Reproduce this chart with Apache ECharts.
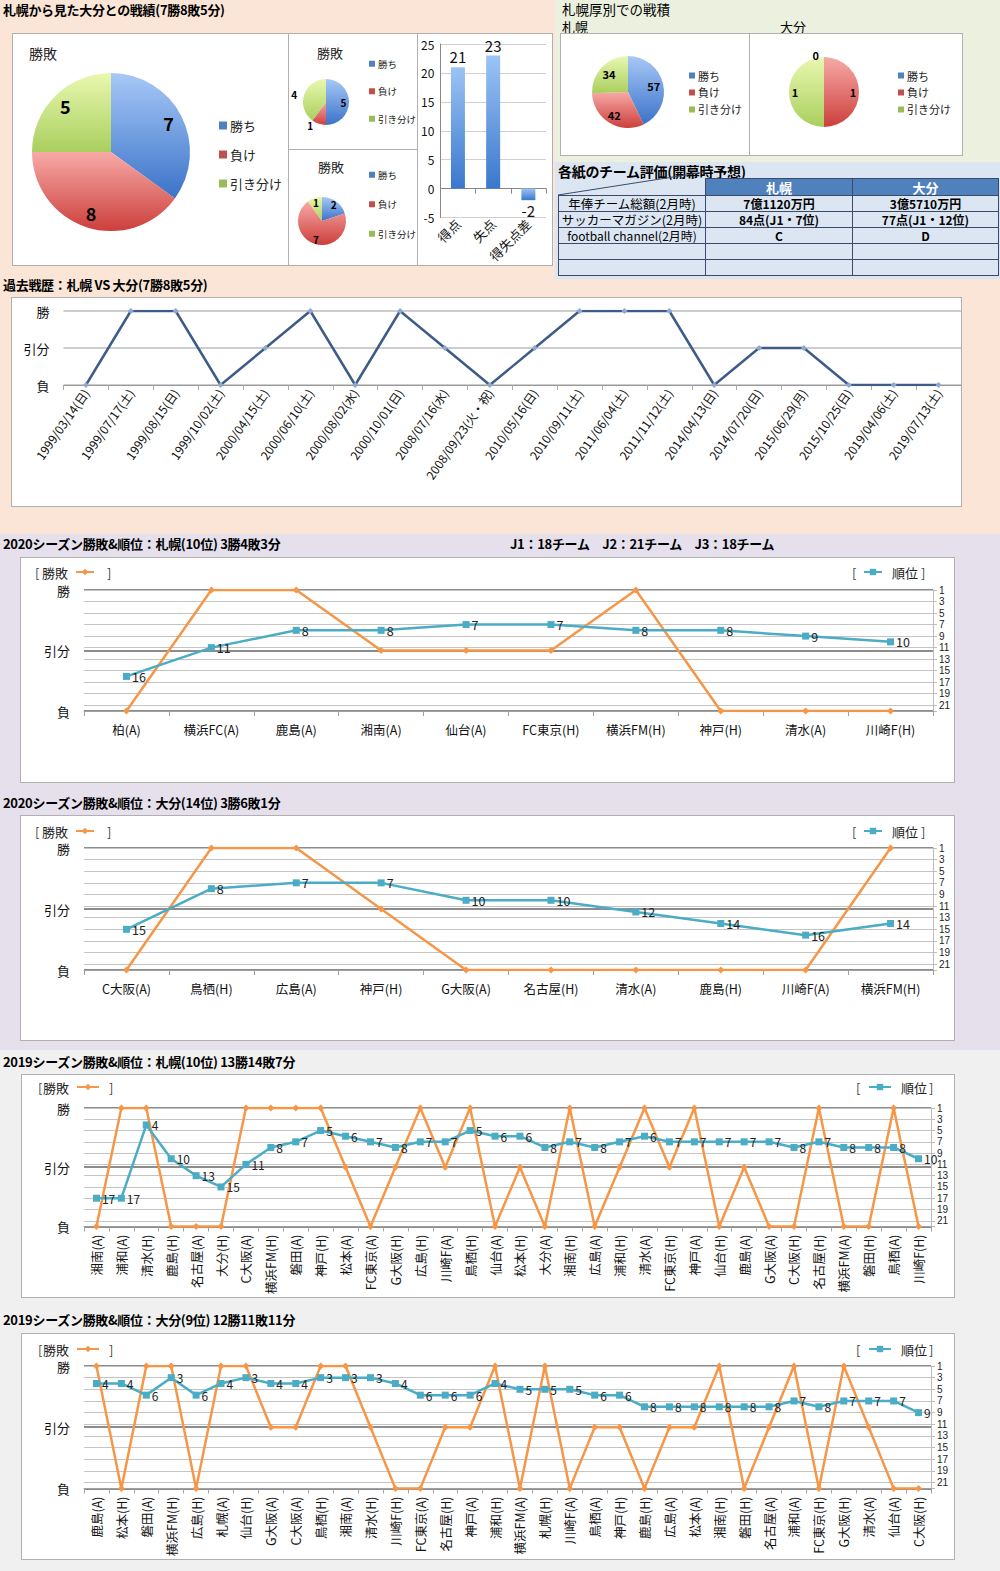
<!DOCTYPE html>
<html><head><meta charset="utf-8">
<script src="https://cdn.jsdelivr.net/npm/echarts@6/dist/echarts.min.js"></script>
<style>
body{margin:0;width:1000px;height:1571px;position:relative;overflow:hidden;font-family:'Noto Sans CJK JP','Noto Sans',sans-serif;background:#fff;}
.sec{position:absolute;}
.box{position:absolute;background:#fff;border:1px solid #b0b0b0;box-sizing:border-box;}
.ttl{position:absolute;font-weight:bold;font-size:13px;color:#000;white-space:nowrap;line-height:16px;letter-spacing:-0.3px;}
.ttln{position:absolute;font-size:13px;color:#000;white-space:nowrap;line-height:13px;}
#tbl{position:absolute;left:558px;top:178px;border-collapse:collapse;table-layout:fixed;}
#tbl td{border:1px solid #3a4a68;padding:0;font-size:12.5px;line-height:13px;height:15px;text-align:center;background:#dce6f2;white-space:nowrap;overflow:visible;}
#tbl td.h{background:#4f81bd;color:#fff;font-weight:bold;font-size:13px;}
#tbl td.b{font-weight:bold;font-size:12px;}
</style></head>
<body>
<div class="sec" style="left:0;top:0;width:1000px;height:534px;background:#fbe5d6"></div>
<div class="sec" style="left:555px;top:0;width:445px;height:162px;background:#ebf1de"></div>
<div class="sec" style="left:555px;top:162px;width:445px;height:117px;background:#dce6f2"></div>
<div class="sec" style="left:0;top:534px;width:1000px;height:516px;background:#e5e0ec"></div>
<div class="sec" style="left:0;top:1050px;width:1000px;height:521px;background:#f0f0f0"></div>

<div class="ttl" style="left:3px;top:2px">札幌から見た大分との戦績(7勝8敗5分)</div>
<div class="ttln" style="left:562px;top:3px;font-size:13.5px">札幌厚別での戦積</div>
<div class="ttln" style="left:562px;top:20px">札幌</div>
<div class="ttln" style="left:780px;top:20px">大分</div>
<div class="ttl" style="left:558px;top:163px;font-size:14px">各紙のチーム評価(開幕時予想)</div>
<div class="ttl" style="left:3px;top:277px">過去戦歴：札幌 VS 大分(7勝8敗5分)</div>
<div class="ttl" style="left:3px;top:536px">2020シーズン勝敗&amp;順位：札幌(10位) 3勝4敗3分</div>
<div class="ttl" style="left:510px;top:536px">J1：18チーム　J2：21チーム　J3：18チーム</div>
<div class="ttl" style="left:3px;top:795px">2020シーズン勝敗&amp;順位：大分(14位) 3勝6敗1分</div>
<div class="ttl" style="left:3px;top:1054px">2019シーズン勝敗&amp;順位：札幌(10位) 13勝14敗7分</div>
<div class="ttl" style="left:3px;top:1312px">2019シーズン勝敗&amp;順位：大分(9位) 12勝11敗11分</div>

<div id="bigPie" class="box" style="left:12px;top:33px;width:277px;height:233px"></div>
<div id="pieS1" class="box" style="left:288px;top:33px;width:130px;height:117px"></div>
<div id="pieS2" class="box" style="left:288px;top:149px;width:130px;height:117px"></div>
<div id="bar" class="box" style="left:417px;top:33px;width:136px;height:233px"></div>
<div id="pieSap" class="box" style="left:560px;top:33px;width:190px;height:123px"></div>
<div id="pieOit" class="box" style="left:749px;top:33px;width:214px;height:123px"></div>
<div id="hist" class="box" style="left:11px;top:297px;width:951px;height:210px"></div>
<div id="s20a" class="box" style="left:20px;top:557px;width:935px;height:226px"></div>
<div id="s20b" class="box" style="left:20px;top:815px;width:935px;height:226px"></div>
<div id="s19a" class="box" style="left:21px;top:1074px;width:934px;height:224px"></div>
<div id="s19b" class="box" style="left:21px;top:1333px;width:934px;height:227px"></div>

<svg style="position:absolute;left:0;top:0;width:1000px;height:300px;pointer-events:none;z-index:3" width="1000" height="300">
  <line x1="558" y1="195" x2="705" y2="172" stroke="#3a4a68" stroke-width="1"/>
</svg>
<table id="tbl">
  <colgroup><col style="width:147px"><col style="width:147px"><col style="width:146px"></colgroup>
  <tr><td style="background:transparent;border-top:none;border-left:none;height:16px"></td><td class="h" style="height:16px">札幌</td><td class="h" style="height:16px">大分</td></tr>
  <tr><td>年俸チーム総額(2月時)</td><td class="b">7億1120万円</td><td class="b">3億5710万円</td></tr>
  <tr><td>サッカーマガジン(2月時)</td><td class="b">84点(J1・7位)</td><td class="b">77点(J1・12位)</td></tr>
  <tr><td style="font-size:12px">football channel(2月時)</td><td class="b">C</td><td class="b">D</td></tr>
  <tr><td></td><td></td><td></td></tr>
  <tr><td></td><td></td><td></td></tr>
</table>

<script>
// ---------------- DATA ----------------
const outcomeNames = ['勝ち', '負け', '引き分け'];
const allResults = [7, 8, 5];
const subResultsA = [5, 1, 4];
const subResultsB = [2, 7, 1];
const goalCategories = ['得点', '失点', '得失点差'];
const goalValues = [21, 23, -2];
const atsubetsuSapporo = [57, 42, 34];
const atsubetsuOita = [0, 1, 1];

const histDates = ['1999/03/14(日)','1999/07/17(土)','1999/08/15(日)','1999/10/02(土)','2000/04/15(土)','2000/06/10(土)','2000/08/02(水)','2000/10/01(日)','2008/07/16(水)','2008/09/23(火・祝)','2010/05/16(日)','2010/09/11(土)','2011/06/04(土)','2011/11/12(土)','2014/04/13(日)','2014/07/20(日)','2015/06/29(月)','2015/10/25(日)','2019/04/06(土)','2019/07/13(土)'];
const histResults = ['負','勝','勝','負','分','勝','負','勝','分','負','分','勝','勝','勝','負','分','分','負','負','負'];

const sap2020Opponents = ['柏(A)','横浜FC(A)','鹿島(A)','湘南(A)','仙台(A)','FC東京(H)','横浜FM(H)','神戸(H)','清水(A)','川崎F(H)'];
const sap2020Results = ['負','勝','勝','分','分','分','勝','負','負','負'];
const sap2020Ranks = [16, 11, 8, 8, 7, 7, 8, 8, 9, 10];

const oit2020Opponents = ['C大阪(A)','鳥栖(H)','広島(A)','神戸(H)','G大阪(A)','名古屋(H)','清水(A)','鹿島(H)','川崎F(A)','横浜FM(H)'];
const oit2020Results = ['負','勝','勝','分','負','負','負','負','負','勝'];
const oit2020Ranks = [15, 8, 7, 7, 10, 10, 12, 14, 16, 14];

const sap2019Opponents = ['湘南(A)','浦和(A)','清水(H)','鹿島(H)','名古屋(A)','大分(H)','C大阪(A)','横浜FM(H)','磐田(A)','神戸(H)','松本(A)','FC東京(A)','G大阪(H)','広島(H)','川崎F(A)','鳥栖(H)','仙台(A)','松本(H)','大分(A)','湘南(H)','広島(A)','浦和(H)','清水(A)','FC東京(H)','神戸(A)','仙台(H)','鹿島(A)','G大阪(A)','C大阪(H)','名古屋(H)','横浜FM(A)','磐田(H)','鳥栖(A)','川崎F(H)'];
const sap2019Results = ['負','勝','勝','負','負','負','勝','勝','勝','勝','分','負','分','勝','分','勝','負','分','負','勝','負','分','勝','分','勝','負','分','負','負','勝','負','負','勝','負'];
const sap2019Ranks = [17,17,4,10,13,15,11,8,7,5,6,7,8,7,7,5,6,6,8,7,8,7,6,7,7,7,7,7,8,7,8,8,8,10];

const oit2019Opponents = ['鹿島(A)','松本(H)','磐田(A)','横浜FM(H)','広島(H)','札幌(A)','仙台(H)','G大阪(A)','C大阪(A)','鳥栖(H)','湘南(A)','清水(H)','川崎F(H)','FC東京(A)','名古屋(H)','神戸(A)','浦和(H)','横浜FM(A)','札幌(H)','川崎F(A)','鳥栖(A)','神戸(H)','鹿島(H)','広島(A)','松本(A)','湘南(H)','磐田(H)','名古屋(A)','浦和(A)','FC東京(H)','G大阪(H)','清水(A)','仙台(A)','C大阪(H)'];
const oit2019Results = ['勝','負','勝','勝','負','勝','勝','分','分','勝','勝','分','負','負','分','分','勝','負','勝','負','分','分','負','分','分','勝','負','分','勝','負','勝','分','負','負'];
const oit2019Ranks = [4,4,6,3,6,4,3,4,4,3,3,3,4,6,6,6,4,5,5,5,6,6,8,8,8,8,8,8,7,8,7,7,7,9];

const resultAxisLabels = ['負', '引分', '勝'];
const resultLevel = { '負': 0, '分': 1, '勝': 2 };

// ---------------- STYLE / HELPERS ----------------
const FONT = "'Noto Sans CJK JP', sans-serif";
const G = echarts.graphic.LinearGradient;
const sliceColors = [
  new G(0, 0, 0, 1, [{offset: 0, color: '#a7c8f7'}, {offset: 1, color: '#3b73c8'}]),
  new G(0, 0, 0, 1, [{offset: 0, color: '#f7aaa7'}, {offset: 1, color: '#cc3f3c'}]),
  new G(0, 0, 0, 1, [{offset: 0, color: '#e9f8b0'}, {offset: 1, color: '#a9cf5e'}])
];
const legendColors = ['#4f81bd', '#c0504d', '#9bbb59'];

function init(id) {
  return echarts.init(document.getElementById(id), null, {renderer: 'svg'});
}

function pieChart(id, values, o) {
  const items = outcomeNames.map((n, i) => ({
    name: n, value: values[i],
    label: {position: (o.labelPos && o.labelPos[i]) || 'inside'}
  }));
  const baseItems = outcomeNames.map((n, i) => ({name: n, value: values[i], itemStyle: {color: sliceColors[i]}}));
  const opt = {
    animation: false,
    textStyle: {fontFamily: FONT},
    title: o.title ? {text: '勝敗', left: o.title[0], top: o.title[1], padding: 0,
      textStyle: {fontSize: o.titleSize || 14, fontWeight: 'normal', color: '#222', fontFamily: FONT}} : undefined,
    legend: {
      orient: 'vertical', left: o.legend[0], top: o.legend[1], itemGap: o.legendGap, padding: 0,
      icon: 'rect', itemWidth: o.icon, itemHeight: o.icon,
      data: outcomeNames.map((n, i) => ({name: n, itemStyle: {color: legendColors[i]}})),
      textStyle: {fontSize: o.legendFont, color: '#222', fontFamily: FONT, padding: [0, 0, 0, -2]}
    },
    series: [
      {type: 'pie', center: o.center, radius: [0, o.r], data: baseItems, startAngle: 90, clockwise: true,
       label: {show: false}, labelLine: {show: false}, emphasis: {disabled: true}, silent: true},
      {type: 'pie', center: o.center, radius: [o.r * o.k, o.r], data: items, startAngle: 90, clockwise: true,
       itemStyle: {color: 'rgba(0,0,0,0)'}, silent: true, emphasis: {disabled: true}, legendHoverLink: false,
       avoidLabelOverlap: false, minShowLabelAngle: -1,
       label: {show: true, formatter: '{c}', fontSize: o.labelFont, fontWeight: 'bold', color: '#000', fontFamily: FONT},
       labelLine: {show: false, length: 2, length2: 0}}
    ]
  };
  init(id).setOption(opt);
}

pieChart('bigPie', allResults, {center: [98, 118], r: 79, k: 0.56, title: [16, 12], legend: [206, 85], legendGap: 16, icon: 8, legendFont: 13, labelFont: 18});
pieChart('pieS1', subResultsA, {center: [37, 68], r: 23, k: 0.25, title: [28, 12], titleSize: 13, legend: [80, 25], legendGap: 18, icon: 6, legendFont: 9.5, labelFont: 10, labelPos: ['inside', 'outside', 'outside']});
pieChart('pieS2', subResultsB, {center: [33, 71], r: 24, k: 0.4, title: [29, 10], titleSize: 13, legend: [80, 20], legendGap: 20, icon: 6, legendFont: 9.5, labelFont: 10});
pieChart('pieSap', atsubetsuSapporo, {center: [67, 58], r: 36, k: 0.3, legend: [128, 36], legendGap: 6, icon: 6, legendFont: 11, labelFont: 11});
pieChart('pieOit', atsubetsuOita, {center: [74, 58], r: 35, k: 0.48, legend: [148, 36], legendGap: 6, icon: 6, legendFont: 11, labelFont: 11, labelPos: ['outside', 'inside', 'inside']});

// bar chart
init('bar').setOption({
  animation: false,
  textStyle: {fontFamily: FONT},
  grid: {left: 22, top: 10, width: 106, height: 199},
  xAxis: {type: 'category', data: goalCategories, axisLine: {onZero: true, lineStyle: {color: '#888'}},
    axisTick: {show: true, lineStyle: {color: '#888'}},
    axisLabel: {interval: 0, rotate: 45, fontSize: 13, color: '#111', margin: 4, fontFamily: FONT}},
  yAxis: {type: 'value', min: -5, max: 25, interval: 5, axisLine: {show: true, lineStyle: {color: '#888'}},
    axisLabel: {fontSize: 12, color: '#111', margin: 6}, splitLine: {lineStyle: {color: '#d0d0d0'}}},
  series: [{type: 'bar', barWidth: 14,
    data: goalValues.map(v => ({value: v, label: {position: v < 0 ? 'bottom' : 'top'}})),
    itemStyle: {color: new G(0, 0, 0, 1, [{offset: 0, color: '#9cc3f5'}, {offset: 1, color: '#3a78cc'}])},
    label: {show: true, fontSize: 15, color: '#111', distance: 3, fontFamily: FONT}}]
});

// history chart
init('hist').setOption({
  animation: false,
  textStyle: {fontFamily: FONT},
  grid: {left: 51.5, top: 13, width: 897.5, height: 74},
  xAxis: {type: 'category', data: histDates, boundaryGap: true,
    axisLine: {lineStyle: {color: '#999'}}, axisTick: {show: true, lineStyle: {color: '#aaa'}},
    axisLabel: {interval: 0, rotate: 55, fontSize: 12, color: '#111', margin: 5, fontFamily: FONT}},
  yAxis: {type: 'value', min: 0, max: 2, interval: 1,
    axisLabel: {formatter: v => resultAxisLabels[v], fontSize: 13, color: '#111', margin: 14},
    axisLine: {show: false}, axisTick: {show: false},
    splitLine: {lineStyle: {color: '#bcbcbc', width: 1.5}}},
  series: [{type: 'line', data: histResults.map(r => resultLevel[r]), symbol: 'diamond', symbolSize: 6,
    lineStyle: {color: '#3d5c87', width: 2.5}, itemStyle: {color: '#8fa9cf'}}]
});

// season charts
function seasonChart(id, cats, results, ranks, o) {
  const br = (x, t) => ({type: 'text', x: x, y: o.lgY, silent: true,
    style: {text: t, fontSize: 13, fill: '#444', fontFamily: FONT, verticalAlign: 'middle', align: 'left'}});
  init(id).setOption({
    animation: false,
    textStyle: {fontFamily: FONT},
    grid: o.grid,
    graphic: [br(o.br[0], '['), br(o.br[1], ']'), br(o.br[2], '['), br(o.br[3], ']')],
    legend: [
      {data: ['勝敗'], left: o.lg1, top: o.lgY - 7, align: 'right', itemWidth: o.iw, itemHeight: 8, padding: 0,
       textStyle: {fontSize: 13, color: '#222', fontFamily: FONT, lineHeight: 14, padding: [0, 3, 0, 0]}},
      {data: ['順位'], left: o.lg2, top: o.lgY - 7, align: 'left', itemWidth: o.iw, itemHeight: 8, padding: 0,
       textStyle: {fontSize: 13, color: '#222', fontFamily: FONT, lineHeight: 14, padding: [0, 0, 0, 5]}}
    ],
    xAxis: {type: 'category', data: cats, boundaryGap: true,
      axisLine: {lineStyle: {color: '#a0a0a0'}}, axisTick: {show: true, length: 5, lineStyle: {color: '#a0a0a0'}},
      axisLabel: {interval: 0, rotate: o.rotate, fontSize: o.xFont, color: '#111', margin: o.xMargin, fontFamily: FONT}},
    yAxis: [
      {type: 'value', min: 0, max: 2, interval: 1, position: 'left',
       axisLabel: {formatter: v => resultAxisLabels[v], fontSize: 13, color: '#111', margin: 14},
       axisLine: {show: false}, axisTick: {show: false},
       splitLine: {lineStyle: {color: '#8c8c8c', width: 2}}},
      {type: 'value', inverse: true, min: 0, max: 21, interval: 2, position: 'right',
       axisLabel: {formatter: v => (v === 21 ? '' : String(v + 1)), fontSize: 10, lineHeight: 10, color: '#222', margin: 6,
         fontFamily: "'Liberation Sans', Arial, sans-serif", showMinLabel: true, showMaxLabel: true},
       axisLine: {show: true, lineStyle: {color: '#bdbdbd'}}, axisTick: {show: true, length: 4, lineStyle: {color: '#bdbdbd'}},
       splitLine: {show: true, lineStyle: {color: '#c4c4c4', width: 1}}}
    ],
    series: [
      {name: '勝敗', type: 'line', yAxisIndex: 0, data: results.map(r => resultLevel[r]),
       symbol: 'diamond', symbolSize: 7, lineStyle: {color: '#f79646', width: 2.5}, itemStyle: {color: '#f79646'}, z: 2},
      {name: '順位', type: 'line', yAxisIndex: 1, data: ranks.map(r => r - 1),
       symbol: 'rect', symbolSize: 7, lineStyle: {color: '#4bacc6', width: 2.5}, itemStyle: {color: '#4bacc6'}, z: 3,
       label: {show: true, position: 'right', distance: 2, formatter: p => String(p.value + 1), fontSize: o.lblFont, color: '#222', fontFamily: FONT}}
    ]
  });
}

seasonChart('s20a', sap2020Opponents, sap2020Results, sap2020Ranks,
  {grid: {left: 63, top: 32, width: 849, height: 121}, rotate: 0, xFont: 12.5, xMargin: 12, lblFont: 12.5,
   lgY: 14, lg1: 21, lg2: 842, iw: 18, br: [14, 86, 831, 900]});
seasonChart('s20b', oit2020Opponents, oit2020Results, oit2020Ranks,
  {grid: {left: 63, top: 32, width: 849, height: 122}, rotate: 0, xFont: 12.5, xMargin: 12, lblFont: 12.5,
   lgY: 15, lg1: 21, lg2: 842, iw: 18, br: [14, 86, 831, 900]});
seasonChart('s19a', sap2019Opponents, sap2019Results, sap2019Ranks,
  {grid: {left: 62, top: 33, width: 847, height: 121}, rotate: 90, xFont: 12.5, xMargin: 8, lblFont: 12,
   lgY: 12, lg1: 21, lg2: 846, iw: 22, br: [16, 87, 834, 907]});
seasonChart('s19b', oit2019Opponents, oit2019Results, oit2019Ranks,
  {grid: {left: 62, top: 32, width: 847, height: 123}, rotate: 90, xFont: 12.5, xMargin: 8, lblFont: 12,
   lgY: 15, lg1: 21, lg2: 846, iw: 22, br: [16, 87, 834, 907]});
</script>
</body></html>
